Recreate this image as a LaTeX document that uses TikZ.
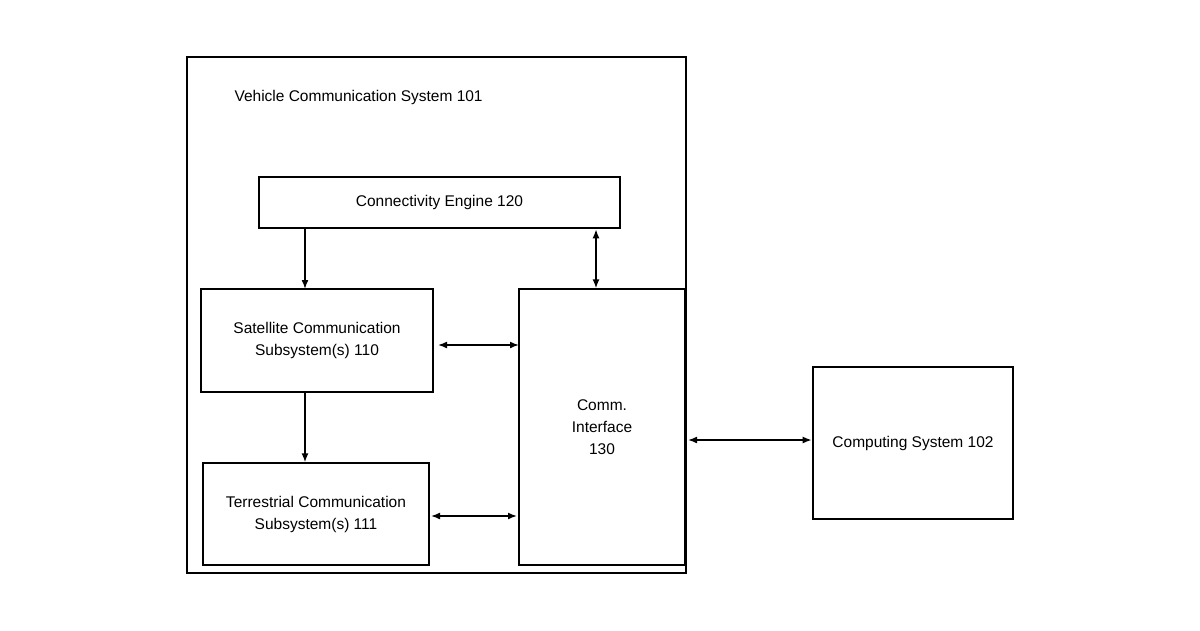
\documentclass[tikz,border=0pt]{standalone}
\usepackage{fontspec}
\setmainfont{Liberation Sans}
\usetikzlibrary{arrows.meta}
\tikzset{
  blk/.style={draw, line width=1.3pt, align=center, font=\fontsize{15.5}{19}\selectfont, inner sep=0pt},
  thk/.style={blk, line width=2.6pt},
  link/.style={line width=1.6pt, -{Latex[length=9pt,width=7pt]}},
  dlink/.style={line width=1.6pt, {Latex[length=9pt,width=7pt]}-{Latex[length=9pt,width=7pt]}}
}
\begin{document}
\begin{tikzpicture}[x=1pt, y=-1pt]
    \useasboundingbox (0,0) rectangle (1200,630);
    \node[blk, minimum width=499pt, minimum height=516pt] (vcs) at (436.5,315) {};
    \node[anchor=west, font=\fontsize{15.5}{19}\selectfont] (title) at (231,97) {Vehicle Communication System 101};
    \node[thk, minimum width=361pt, minimum height=51pt] (eng) at (439.5,202.5) {Connectivity Engine 120};
    \node[blk, minimum width=232pt, minimum height=103pt] (sat) at (317,340.5) {Satellite Communication\\[3pt]Subsystem(s) 110};
    \node[blk, minimum width=226pt, minimum height=102pt] (ter) at (316,514) {Terrestrial Communication\\[3pt]Subsystem(s) 111};
    \node[blk, minimum width=166pt, minimum height=276pt] (comm) at (602,427) {Comm.\\[3pt]Interface\\[3pt]130};
    \node[thk, minimum width=200pt, minimum height=152pt] (cs) at (913,443) {Computing System 102};

    \draw[link] (305,228) -- (305,289);
    \draw[link] (sat.south -| 305,0) -- (ter.north -| 305,0);
    \draw[dlink] (eng.south -| 596,0) -- (comm.north -| 596,0);
    \draw[dlink] (438,345) -- (519,345);
    \draw[dlink] (431,516) -- (517,516);
    \draw[dlink] (688,440) -- (cs.west |- 0,440);
\end{tikzpicture}
\end{document}
